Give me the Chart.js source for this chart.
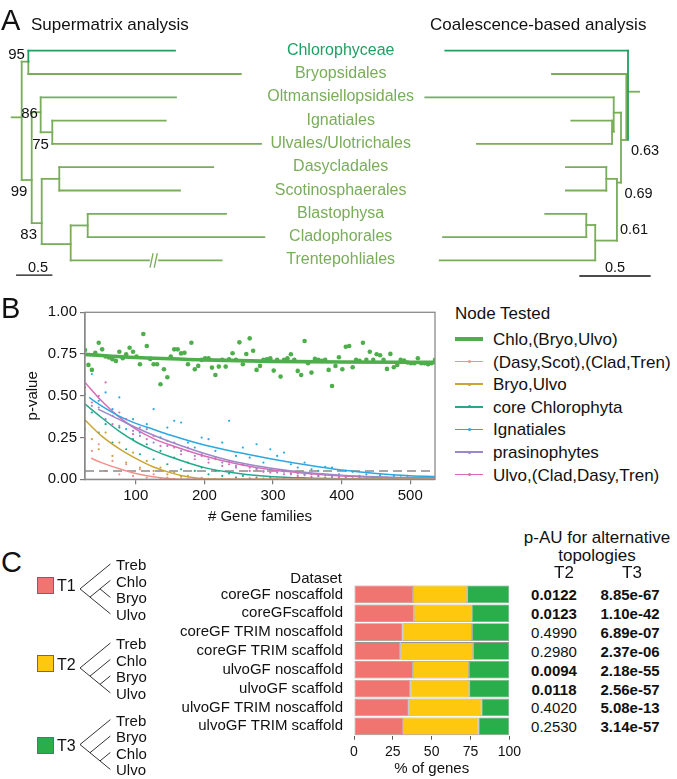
<!DOCTYPE html>
<html><head><meta charset="utf-8">
<script src="https://cdn.jsdelivr.net/npm/chart.js@4.4.1/dist/chart.umd.min.js"></script>
<style>
html,body{margin:0;padding:0;background:#fff;}
body{width:677px;height:779px;position:relative;overflow:hidden;font-family:"Liberation Sans",Arial,Helvetica,sans-serif;color:#111;}
.t{position:absolute;white-space:nowrap;line-height:1;}
.wrap{position:absolute;}
.sw{position:absolute;}
</style></head><body>
<div class="wrap" style="left:0;top:0;width:300px;height:290px"><canvas id="cTreeL"></canvas></div>
<div class="wrap" style="left:400px;top:0;width:277px;height:290px"><canvas id="cTreeR"></canvas></div>
<div class="wrap" style="left:0;top:300px;width:445px;height:240px"><canvas id="cB"></canvas></div>
<div class="wrap" style="left:140px;top:560px;width:385px;height:219px"><canvas id="cC"></canvas></div>
<div class="wrap" style="left:60px;top:550px;width:90px;height:229px"><canvas id="cClado"></canvas></div>
<script>
// ================= DATA =================
// Panel A
const taxa = ['Chlorophyceae','Bryopsidales','Oltmansiellopsidales','Ignatiales','Ulvales/Ulotrichales','Dasycladales','Scotinosphaerales','Blastophysa','Cladophorales','Trentepohliales'];
// branch segments [x1,y1,x2,y2] in (branch length units, taxon index)
const supermatrixSegs = [
 [-0.143,2.86,0,2.86],[0,0.47,0,5.55],[0,0.47,0.095,0.47],[0.095,0.47,0.095,1],[0.095,1,3.13,1],
 [0,5.55,0.143,5.55],[0.143,2.64,0.143,7.4],[0.143,2.64,0.271,2.64],[0.271,2,0.271,3.5],[0.271,2,2.204,2],
 [0.271,3.5,0.437,3.5],[0.437,3,0.437,4],[0.437,3,2.057,3],[0.437,4,3.419,4],
 [0.143,7.4,0.286,7.4],[0.286,5.5,0.286,8.3],[0.286,5.5,0.537,5.5],[0.537,5,0.537,6],[0.537,5,2.737,5],[0.537,6,2.261,6],
 [0.286,8.3,0.7,8.3],[0.7,7.5,0.7,9],[0.7,7.5,0.943,7.5],[0.943,7,0.943,8],[0.943,7,2.919,7],[0.943,8,3.466,8],[0.7,9,2.857,9]
];
const supermatrixChloroSegs = [[0.095,0,0.095,0.47],[0.095,0,2.19,0]];
const supermatrixBreak = [[1.86,9,1.92,9]];
const supermatrixSlashes = [[1.835,9.28,1.875,8.72],[1.895,9.28,1.935,8.72]];
const supermatrixScale = [[-0.071,9.63,0.429,9.63]];
const supermatrixSupport = ['95','86','75','99','83'];

const coalescenceSegs = [
 [0,1.76,-0.079,1.76],[0.543,1,0.012,1],[0.012,1,0.012,3.83],[0.012,3.83,0.05,3.83],[0.05,2.66,0.05,5.66],
 [0.05,2.66,0.102,2.66],[0.102,2,0.102,3.47],[1.448,2,0.102,2],[0.102,3.47,0.114,3.47],[0.114,3,0.114,4],
 [0.405,3,0.114,3],[1.079,4,0.114,4],[0.05,5.66,0.079,5.66],[0.079,5.5,0.079,8.15],[0.079,5.5,0.155,5.5],
 [0.155,5,0.155,6],[0.443,5,0.155,5],[0.443,6,0.155,6],[0.079,8.15,0.234,8.15],[0.234,7.48,0.234,9],
 [0.234,7.48,0.298,7.48],[0.298,7,0.298,8],[0.591,7,0.298,7],[1.321,8,0.298,8],[1.345,9,0.234,9]
];
const coalescenceChloroSegs = [[1.305,0,0,0],[0,0,0,3.83]];
const coalescenceScale = [[0.343,9.67,-0.157,9.67]];
const coalescenceSupport = ['0.63','0.69','0.61'];

// Panel B
const xTicksB = [100,200,300,400,500];
const yTicksB = [0,0.25,0.5,0.75,1];
const gfX = [26,31,36,41,46,51,56,61,66,71,76,81,86,91,96,101,106,111,116,121,126,131,136,141,146,151,156,161,166,171,176,181,186,191,196,201,206,211,216,221,226,231,236,241,246,251,256,261,266,271,276,281,286,291,296,301,306,311,316,321,326,331,336,341,346,351,356,361,366,371,376,381,386,391,396,401,406,411,416,421,426,431,436,441,446,451,456,461,466,471,476,481,486,491,496,501,506,511,516,521,526,531,536];
const chloY = [0.774,0.685,0.655,0.758,0.818,0.778,0.735,0.729,0.719,0.709,0.764,0.725,0.749,0.788,0.764,0.735,0.689,0.870,0.798,0.721,0.689,0.689,0.569,0.659,0.611,0.735,0.778,0.778,0.754,0.758,0.689,0.818,0.659,0.679,0.715,0.725,0.725,0.669,0.625,0.675,0.715,0.675,0.719,0.755,0.715,0.820,0.689,0.750,0.844,0.770,0.655,0.679,0.715,0.719,0.725,0.651,0.715,0.615,0.715,0.725,0.749,0.715,0.649,0.625,0.828,0.695,0.639,0.721,0.715,0.709,0.715,0.655,0.559,0.679,0.731,0.659,0.794,0.798,0.671,0.715,0.709,0.818,0.715,0.764,0.715,0.749,0.743,0.715,0.661,0.751,0.671,0.685,0.715,0.711,0.699,0.695,0.695,0.725,0.695,0.695,0.689,0.695,0.715];
const chloFitX = [26,100,200,300,400,536];
const chloFitY = [0.748,0.729,0.715,0.706,0.702,0.700];

const dotX = [26,36,46,56,66,76,86,96,106,116,126,136,146,156,166,176,186,196,206,216,226,236,246,256,266,276,286,296,306,316,326,336,346,356,366,376,386,396,406,416,426,436,446,456,466,476,486,496,506,516,526,536];
const dasyY = [0.24,0.17,0.21,0.05,0.11,0.03,0.09,0.02,0.06,0.01,0.03,0.005,0.01,0.002,0,0,0,0,0,0,0,0,0,0,0,0,0,0,0,0,0,0,0,0,0,0,0,0,0,0,0,0,0,0,0,0,0,0,0,0,0,0];
const bryoY = [0.30,0.24,0.18,0.28,0.14,0.22,0.10,0.16,0.07,0.11,0.05,0.07,0.03,0.04,0.015,0.02,0.005,0.008,0.002,0,0,0,0,0,0,0,0,0,0,0,0,0,0,0,0,0,0,0,0,0,0,0,0,0,0,0,0,0,0,0,0,0];
const coreY = [0.35,0.40,0.28,0.33,0.22,0.31,0.18,0.24,0.15,0.21,0.12,0.17,0.09,0.13,0.06,0.10,0.05,0.07,0.03,0.05,0.02,0.035,0.01,0.02,0.005,0.01,0.004,0.008,0.003,0.005,0.002,0.004,0.002,0.003,0.001,0.002,0.001,0.002,0,0.001,0,0.001,0,0.001,0,0,0.001,0,0,0.001,0,0];
const ignaY = [0.51,0.63,0.47,0.52,0.42,0.49,0.30,0.36,0.28,0.33,0.42,0.25,0.31,0.35,0.34,0.22,0.19,0.25,0.24,0.17,0.22,0.35,0.14,0.19,0.13,0.21,0.10,0.18,0.14,0.16,0.09,0.07,0.10,0.06,0.05,0.075,0.07,0.03,0.05,0.045,0.02,0.03,0.015,0.025,0.01,0.02,0.012,0.02,0.01,0.015,0.008,0.012];
const prasY = [null,0.44,0.43,0.36,0.38,0.32,0.34,0.29,0.26,0.30,0.22,0.25,0.20,0.22,0.17,0.19,0.14,0.15,0.12,0.13,0.10,0.11,0.08,0.09,0.07,0.065,0.05,0.06,0.04,0.045,0.03,0.035,0.025,0.03,0.02,0.025,0.015,0.02,0.012,0.018,0.01,0.015,0.01,0.012,0.008,0.01,0.008,0.01,0.006,0.008,0.006,0.007];
const ulvoY = [0.55,0.46,0.50,0.58,0.33,0.40,0.36,0.27,0.31,0.24,0.26,0.20,0.23,0.19,0.15,0.17,0.12,0.14,0.10,0.12,0.08,0.09,0.07,0.085,0.05,0.06,0.045,0.04,0.05,0.03,0.035,0.02,0.03,0.015,0.02,0.01,0.015,0.008,0.01,0.005,0.01,0.005,0.008,0.004,0.006,0.003,0.005,0.003,0.004,0.002,0.003,0.002];

const dasyFitX = [35,50,75,100,125,150,175,200,536];
const dasyFitY = [0.126,0.10,0.065,0.035,0.015,0.004,0,0,0];
const bryoFitX = [26,50,75,100,125,150,175,200,250,536];
const bryoFitY = [0.355,0.26,0.185,0.125,0.075,0.04,0.015,0.003,0,0];
const coreFitX = [26,50,75,100,125,150,200,250,300,350,400,450,536];
const coreFitY = [0.45,0.37,0.29,0.225,0.175,0.135,0.07,0.035,0.016,0.008,0.004,0.002,0.001];
const ignaFitX = [32,50,75,100,125,150,200,250,300,350,400,450,500,536];
const ignaFitY = [0.49,0.44,0.38,0.335,0.30,0.265,0.205,0.16,0.12,0.085,0.055,0.035,0.022,0.017];
const prasFitX = [45,75,100,125,150,200,250,300,350,400,450,500,536];
const prasFitY = [0.42,0.36,0.31,0.265,0.225,0.155,0.10,0.065,0.04,0.025,0.016,0.011,0.009];
const ulvoFitX = [26,50,75,100,125,150,200,250,300,350,400,450,500,536];
const ulvoFitY = [0.58,0.47,0.375,0.30,0.245,0.205,0.14,0.09,0.055,0.035,0.02,0.012,0.007,0.005];
const thresholdX = [26,536];
const thresholdY = [0.05,0.05];
const nodeNames = ['Chlo,(Bryo,Ulvo)','(Dasy,Scot),(Clad,Tren)','Bryo,Ulvo','core Chlorophyta','Ignatiales','prasinophytes','Ulvo,(Clad,Dasy,Tren)'];

// Panel C
const datasetNames = ['coreGF noscaffold','coreGFscaffold','coreGF TRIM noscaffold','coreGF TRIM scaffold','ulvoGF noscaffold','ulvoGF scaffold','ulvoGF TRIM noscaffold','ulvoGF TRIM scaffold'];
const pctT1 = [38.1,38.5,31.3,29.8,37.9,36.3,35.2,31.7];
const pctT2 = [34.8,37.3,44.7,46.9,36.1,37.9,46.9,48.5];
const pctT3 = [27.1,24.2,24.0,23.3,26.0,25.8,17.9,19.8];
const xTicksC = [0,25,50,75,100];
const pauT2 = ['0.0122','0.0123','0.4990','0.2980','0.0094','0.0118','0.4020','0.2530'];
const pauT3 = ['8.85e-67','1.10e-42','6.89e-07','2.37e-06','2.18e-55','2.56e-57','5.08e-13','3.14e-57'];
const topoNames = ['T1','T2','T3'];
const topoTaxa = [['Treb','Chlo','Bryo','Ulvo'],['Treb','Chlo','Bryo','Ulvo'],['Treb','Bryo','Chlo','Ulvo']];
// slanted cladogram segments [depth1,tip1,depth2,tip2]
const topoSegs = [
 [[0,1.5,1,0],[0,1.5,1,3],[0.333,2,0.667,1.5],[0.667,1.5,1,1],[0.667,1.5,1,2]],
 [[0,1.5,1,0],[0,1.5,1,3],[0.333,2,1,1],[0.667,2.5,1,2]],
 [[0,1.5,1,0],[0,1.5,1,3],[0.333,2,1,1],[0.667,2.5,1,2]]
];
const topoBase = [0,4.82,9.49];

// ================= STYLE =================
const FONT = '"Liberation Sans", Arial, Helvetica, sans-serif';
const OLIVE = '#79ad5a', CHLORO = '#1f9f62';
const G='#4dae4b', RED='#f2918a', YEL='#c9a534', TEAL='#24a98a', CYAN='#2aa8df', PURP='#9b88c9', MAG='#da6cb5';
const nodeColors = [G,RED,YEL,TEAL,CYAN,PURP,MAG];
const C1='#f07470', C2='#fdc80e', C3='#2aad4b';
const topoColors = [C1,C2,C3];

Chart.defaults.font.family = FONT;
Chart.defaults.color = '#111';
Chart.defaults.animation = false;
Chart.defaults.responsive = true;
Chart.defaults.maintainAspectRatio = false;
Chart.defaults.plugins.legend.display = false;
Chart.defaults.plugins.tooltip.enabled = false;
Chart.defaults.events = [];

const zip = (xs, ys) => xs.map((x,i) => ({x, y: ys[i]}));

function T(str, x, y, o={}) {
  const d = document.createElement('div');
  d.className = 't'; d.textContent = str;
  const s = d.style;
  s.left = x+'px'; s.top = y+'px';
  s.fontSize = (o.size||15)+'px';
  if (o.color) s.color = o.color;
  if (o.bold) s.fontWeight = 'bold';
  const ax = o.align==='left' ? '0' : o.align==='right' ? '-100%' : '-50%';
  s.transform = `translate(${ax},-50%)` + (o.rot ? ` rotate(${o.rot}deg)` : '');
  document.body.appendChild(d);
  return d;
}

function segSets(segs, color, w, order) {
  return segs.map(s => ({data:[{x:s[0],y:s[1]},{x:s[2],y:s[3]}], showLine:true, borderColor:color, borderWidth:w, pointRadius:0, borderCapStyle:'square', order, clip:false}));
}
function treeChart(id, datasets, xmin, xmax, xrev, ymin, ymax) {
  return new Chart(document.getElementById(id), {
    type:'scatter', data:{datasets},
    options:{layout:{padding:0},
      scales:{x:{type:'linear', display:false, min:xmin, max:xmax, reverse:xrev},
              y:{type:'linear', display:false, min:ymin, max:ymax, reverse:true}}}
  });
}

// ---- Panel A ----
const yMinA = -50.7/23.3, yMaxA = (290-50.7)/23.3;
treeChart('cTreeL', [
  ...segSets(supermatrixSlashes, OLIVE, 1.3, 1),
  ...segSets(supermatrixBreak, '#ffffff', 4, 2),
  ...segSets(supermatrixScale, '#111', 1.3, 3),
  ...segSets(supermatrixChloroSegs, CHLORO, 1.8, 4),
  ...segSets(supermatrixSegs, OLIVE, 1.8, 5)
], -21.7/70, (300-21.7)/70, false, yMinA, yMaxA);
treeChart('cTreeR', [
  ...segSets(coalescenceScale, '#111', 1.3, 3),
  ...segSets(coalescenceChloroSegs, CHLORO, 1.8, 4),
  ...segSets(coalescenceSegs, OLIVE, 1.8, 5)
], -49/140, 228/140, true, yMinA, yMaxA);

T('A', 1, 20, {size:29, align:'left'});
T('Supermatrix analysis', 31, 23.5, {size:17, align:'left'});
T('Coalescence-based analysis', 430, 23.5, {size:17, align:'left'});
taxa.forEach((n,i) => T(n, 340.7, 50.7 + 23.3*i - 1, {size:16, color: i===0 ? CHLORO : OLIVE}));
const supPos = [[16.5,53],[29.5,112],[40.5,143],[19,190],[28.7,233]];
supermatrixSupport.forEach((v,i) => T(v, supPos[i][0], supPos[i][1], {size:15}));
const coaPos = [[645,149.5],[638.5,193],[634,228.5]];
coalescenceSupport.forEach((v,i) => T(v, coaPos[i][0], coaPos[i][1], {size:14.5}));
T('0.5', 38, 266.5, {size:14.5});
T('0.5', 615, 267, {size:14.5});

// ---- Panel B ----
const borderPlugin = {id:'frame', afterDraw(c){ const a=c.chartArea, x=c.ctx; x.save(); x.strokeStyle='#8a8a8a'; x.lineWidth=1.3; x.strokeRect(a.left, a.top, a.right-a.left, a.bottom-a.top); x.restore(); }};
const fit = (xs, ys, color, w, order) => ({data:zip(xs,ys), showLine:true, borderColor:color, borderWidth:w, pointRadius:0, cubicInterpolationMode:'monotone', order});
const dots = (xs, ys, color, r, order) => ({data:zip(xs,ys), showLine:false, pointRadius:r, pointBackgroundColor:color, pointBorderWidth:0, order});
new Chart(document.getElementById('cB'), {
  type:'scatter',
  data:{datasets:[
    fit(chloFitX, chloFitY, G, 3.6, 0),
    dots(gfX, chloY, G, 2.3, 1),
    fit(dasyFitX, dasyFitY, RED, 1.5, 2),
    fit(bryoFitX, bryoFitY, YEL, 1.5, 2),
    fit(coreFitX, coreFitY, TEAL, 1.5, 2),
    fit(ignaFitX, ignaFitY, CYAN, 1.5, 2),
    fit(prasFitX, prasFitY, PURP, 1.5, 2),
    fit(ulvoFitX, ulvoFitY, MAG, 1.5, 2),
    {data:zip(thresholdX, thresholdY), showLine:true, borderColor:'#8a8a8a', borderWidth:1.5, borderDash:[9,5], pointRadius:0, order:3},
    dots(dotX, dasyY, RED, 1.1, 4),
    dots(dotX, bryoY, YEL, 1.1, 4),
    dots(dotX, coreY, TEAL, 1.1, 4),
    dots(dotX, ignaY, CYAN, 1.1, 4),
    dots(dotX, prasY, PURP, 1.1, 4),
    dots(dotX, ulvoY, MAG, 1.1, 4)
  ]},
  options:{
    layout:{padding:{top:12.3, right:10, left:0, bottom:0}},
    scales:{
      x:{type:'linear', min:26, max:536,
         afterBuildTicks:s=>{s.ticks = xTicksB.map(v=>({value:v}));},
         afterFit:s=>{s.height = 60.7;},
         ticks:{font:{size:15}, color:'#111', padding:3, maxRotation:0},
         grid:{display:true, drawOnChartArea:false, drawTicks:true, tickLength:5, color:'#7a7a7a', lineWidth:1.2},
         border:{display:true, color:'#8a8a8a', width:1.3},
         title:{display:true, text:'# Gene families', font:{size:15}, color:'#111', padding:{top:4, bottom:14}}},
      y:{type:'linear', min:0, max:1,
         afterBuildTicks:s=>{s.ticks = yTicksB.map(v=>({value:v}));},
         afterFit:s=>{s.width = 85;},
         ticks:{font:{size:15}, color:'#111', padding:3, callback:v=>Number(v).toFixed(2)},
         grid:{display:true, drawOnChartArea:false, drawTicks:true, tickLength:5, color:'#7a7a7a', lineWidth:1.2},
         border:{display:true, color:'#8a8a8a', width:1.3},
         title:{display:true, text:'p-value', font:{size:15}, color:'#111', padding:{top:23.5, bottom:0}}}
    }
  },
  plugins:[borderPlugin]
});
T('B', 1, 308, {size:29, align:'left'});
T('Node Tested', 455, 313, {size:17, align:'left'});
nodeNames.forEach((n,i) => {
  const y = 339 + 22.6*i;
  const w = i===0 ? 3.6 : 1.5;
  const ln = document.createElement('div'); ln.className='sw';
  ln.style.cssText = `left:455px;top:${y - w/2}px;width:28px;height:${w}px;background:${nodeColors[i]}`;
  document.body.appendChild(ln);
  const dt = document.createElement('div'); dt.className='sw';
  dt.style.cssText = `left:467.5px;top:${y-1.5}px;width:3px;height:3px;border-radius:50%;background:${nodeColors[i]}`;
  document.body.appendChild(dt);
  T(n, 493, y, {size:17, align:'left'});
});

// ---- Panel C ----
T('C', 1, 562, {size:29, align:'left'});
treeChart('cClado',
  topoSegs.flatMap((segs,t) => segSets(segs.map(s=>[s[0], s[1]+topoBase[t], s[2], s[3]+topoBase[t]]), '#333', 1, 1)),
  -20/30, 70/30, false, -14.3/16.4, (779-564.3)/16.4);
topoNames.forEach((n,t) => {
  const sq = [584.5, 663, 744.5][t];
  const b = document.createElement('div'); b.className='sw';
  b.style.cssText = `left:36.5px;top:${sq-8}px;width:15px;height:15px;background:${topoColors[t]};border:1px solid #6a6a6a`;
  document.body.appendChild(b);
  T(n, 57, sq + 1.5, {size:16, align:'left'});
  topoTaxa[t].forEach((tx,k) => T(tx, 116, 564.3 + 16.4*(topoBase[t]+k), {size:15, align:'left'}));
});

const tablePlugin = {id:'table', afterDraw(c){
  if (c._tableDone) return; c._tableDone = true;
  const ys = c.scales.y;
  datasetNames.forEach((_,i) => {
    const y = 560 + ys.getPixelForValue(i);
    T(pauT2[i], 554, y, {size:15, bold: parseFloat(pauT2[i]) < 0.05});
    T(pauT3[i], 630, y, {size:15, bold: parseFloat(pauT3[i]) < 0.05});
  });
}};
const barSet = (label, data, color) => ({label, data, backgroundColor:color, borderColor:'rgba(80,80,80,0.6)', borderWidth:0.8, borderSkipped:false});
new Chart(document.getElementById('cC'), {
  type:'bar',
  data:{labels:datasetNames, datasets:[barSet('T1',pctT1,C1), barSet('T2',pctT2,C2), barSet('T3',pctT3,C3)]},
  options:{
    indexAxis:'y', barPercentage:0.94, categoryPercentage:1,
    layout:{padding:{top:25, right:11, left:0, bottom:0}},
    scales:{
      x:{stacked:true, min:0, max:100,
         afterBuildTicks:s=>{s.ticks = xTicksC.map(v=>({value:v}));},
         afterFit:s=>{s.height = 43.3;},
         ticks:{font:{size:14}, color:'#111', padding:4},
         grid:{display:true, drawOnChartArea:false, drawTicks:true, tickLength:4, color:'#555'},
         border:{display:false},
         title:{display:true, text:'% of genes', font:{size:15}, color:'#111', padding:{top:2, bottom:1}}},
      y:{stacked:true,
         afterFit:s=>{s.width = 214;},
         grid:{display:false, drawTicks:false},
         border:{display:false},
         ticks:{font:{size:15}, color:'#111', padding:11, autoSkip:false}}
    }
  },
  plugins:[tablePlugin]
});
T('Dataset', 342, 577, {size:15, align:'right'});
T('p-AU for alternative', 597, 537, {size:17});
T('topologies', 597, 555, {size:17});
T('T2', 564, 572, {size:17});
T('T3', 632, 572, {size:17});
</script></body></html>
